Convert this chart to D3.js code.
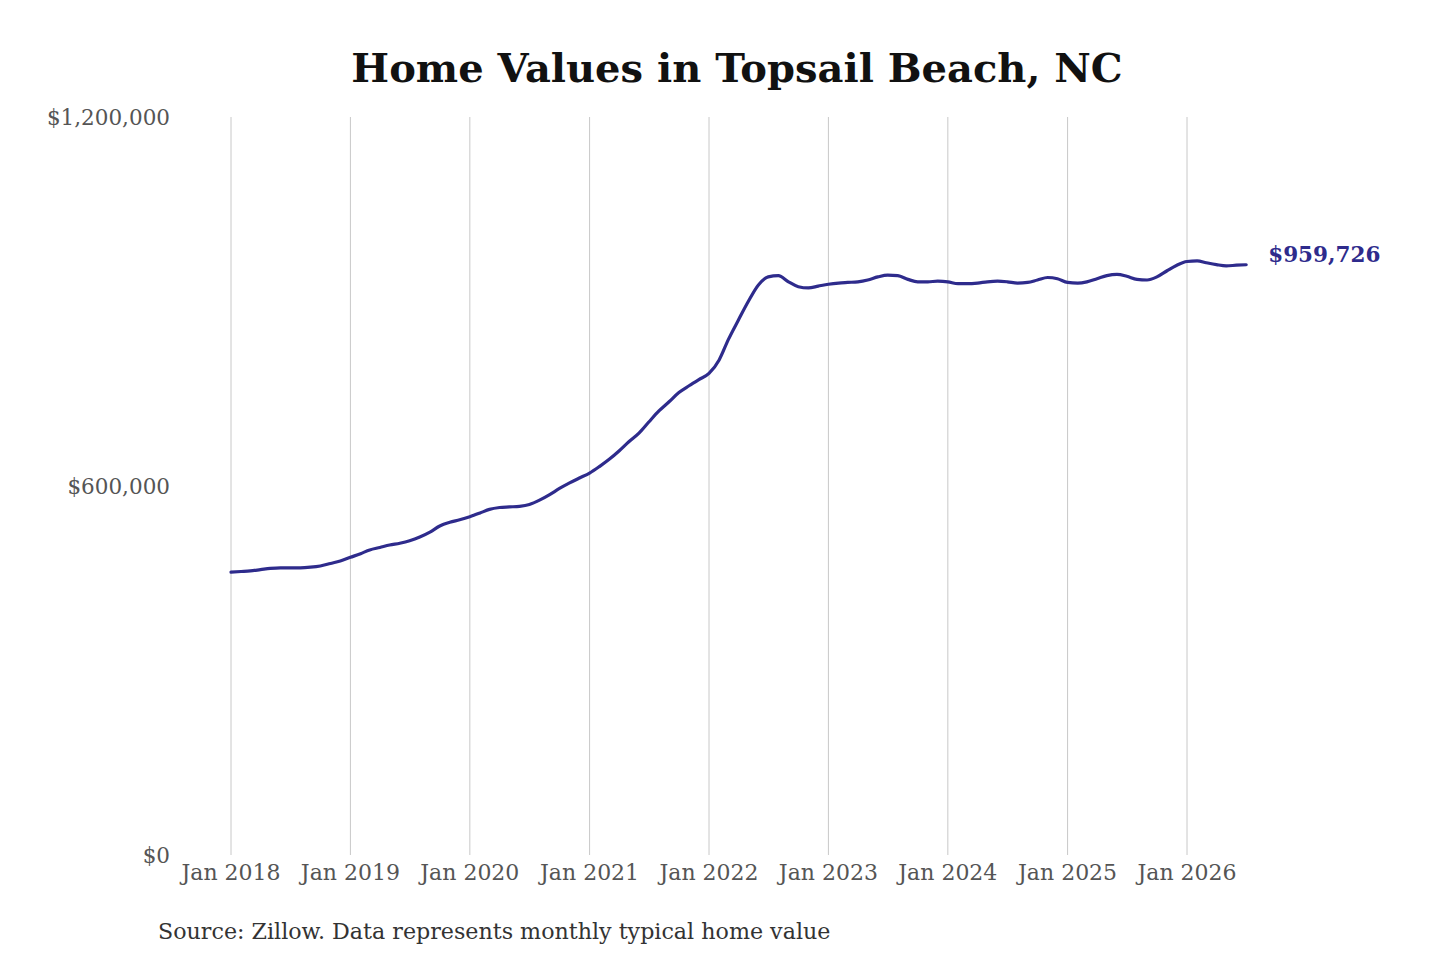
<!DOCTYPE html>
<html><head><meta charset="utf-8">
<script src="https://cdn.jsdelivr.net/npm/d3@7"></script>
<style>
html,body{margin:0;padding:0;background:#fff;}
svg{display:block;}
.serif{font-family:"DejaVu Serif",serif;}
</style></head>
<body>
<svg id="chart" width="1440" height="960"></svg>
<script>
const title = "Home Values in Topsail Beach, NC";
const source = "Source: Zillow. Data represents monthly typical home value";
const startMonth = "2018-01";
const values = [
  // 2018
  460000,461000,462000,464000,466000,467000,467000,467000,468000,470000,474000,478000,
  // 2019
  484000,490000,496000,500000,504000,507000,511000,517000,525000,535000,541000,545000,
  // 2020
  550000,556000,562000,565000,566000,567000,570000,577000,586000,596000,605000,613000,
  // 2021
  621000,632000,643000,657000,672000,686000,704000,722000,737000,752000,763000,773000,
  // 2022
  783000,805000,838000,870000,900000,927000,940000,942000,932000,924000,922000,925000,
  // 2023
  928000,930000,931000,932000,935000,940000,943000,942000,936000,932000,932000,933000,
  // 2024
  932000,929000,929000,930000,932000,933000,932000,930000,931000,935000,939000,937000,
  // 2025
  931000,930000,932000,937000,942000,944000,941000,936000,935000,940000,950000,959000,
  // 2026
  965000,966000,963000,960000,958000,959000,959726
];
const yTicks = [0, 600000, 1200000];
const xTickYears = [2018,2019,2020,2021,2022,2023,2024,2025,2026];
const endLabel = "$959,726";

const svg = d3.select("#chart");
const parse = d3.timeParse("%Y-%m");
const t0 = parse(startMonth);
const data = values.map((v,i)=>({date:d3.timeMonth.offset(t0,i), value:v}));

const x = d3.scaleTime().domain([new Date(2018,0,1), new Date(2026,0,1)]).range([231,1187]);
const y = d3.scaleLinear().domain([0,1200000]).range([855,117]);

// gridlines
svg.append("g").selectAll("line").data(xTickYears).join("line")
  .attr("x1",d=>x(new Date(d,0,1))).attr("x2",d=>x(new Date(d,0,1)))
  .attr("y1",y(1200000)).attr("y2",y(0))
  .attr("stroke","#c8c8c8").attr("stroke-width",1);

// y labels
svg.append("g").selectAll("text").data(yTicks).join("text")
  .attr("class","serif")
  .attr("x",170).attr("y",d=>y(d)).attr("dy","0.37em")
  .attr("text-anchor","end").attr("fill","#555").attr("font-size",21.5)
  .text(d=>d3.format("$,")(d));

// x labels
svg.append("g").selectAll("text").data(xTickYears).join("text")
  .attr("class","serif")
  .attr("x",d=>x(new Date(d,0,1))).attr("y",872).attr("dy","0.35em")
  .attr("text-anchor","middle").attr("fill","#555").attr("font-size",22)
  .text(d=>"Jan "+d);

// line
const line = d3.line().x(d=>x(d.date)).y(d=>y(d.value)).curve(d3.curveMonotoneX);
svg.append("path").datum(data).attr("d",line)
  .attr("fill","none").attr("stroke","#2e2b8c").attr("stroke-width",3.2)
  .attr("stroke-linejoin","round").attr("stroke-linecap","round");

// end label
const last = data[data.length-1];
svg.append("text").attr("class","serif")
  .attr("x",x(last.date)+22).attr("y",y(last.value)-10).attr("dy","0.35em")
  .attr("fill","#2e2b8c").attr("font-weight","bold").attr("font-size",21.5)
  .text(endLabel);

// title
svg.append("text").attr("class","serif")
  .attr("x",737).attr("y",82)
  .attr("text-anchor","middle").attr("fill","#111")
  .attr("font-weight","bold").attr("font-size",40)
  .text(title);

// source
svg.append("text").attr("class","serif")
  .attr("x",158).attr("y",931).attr("dy","0.35em")
  .attr("fill","#333").attr("font-size",22.2)
  .text(source);
</script>
</body></html>
